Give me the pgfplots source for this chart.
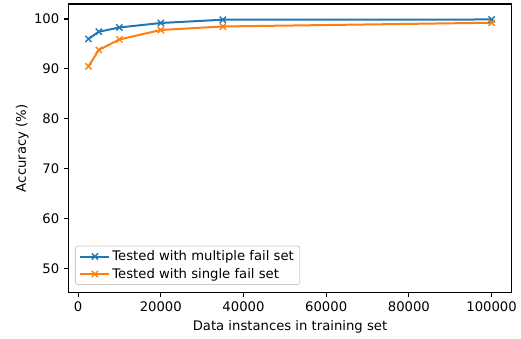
\documentclass[border=0pt]{standalone}
\usepackage{fontspec}
\setmainfont{DejaVu Sans}
\usepackage{pgfplots}
\pgfplotsset{compat=1.18}
\definecolor{mplblue}{HTML}{1F77B4}
\definecolor{mplorange}{HTML}{FF7F0E}
\begin{document}
\fontsize{13.2}{16}\selectfont
\begin{tikzpicture}[font=\fontsize{13.2}{16}\selectfont]
\begin{axis}[
  scale only axis,
  width=443.4pt, height=288.7pt,
  xmin=-2375, xmax=104875,
  ymin=45.2, ymax=103,
  xtick={0,20000,40000,60000,80000,100000},
  xticklabels={0,20000,40000,60000,80000,100000},
  ytick={50,60,70,80,90,100},
  yticklabels={50,60,70,80,90,100},
  scaled x ticks=false,
  tick align=outside,
  tick pos=left,
  major tick length=4.5pt,
  tick style={black, line width=1.05pt},
  axis line style={line width=1.05pt},
  xlabel={Data instances in training set},
  ylabel={Accuracy (\%)},
  xlabel style={at={(axis description cs:0.5,0)}, anchor=base, yshift=-38pt},
  ylabel style={at={(axis description cs:-0.1037,0.5)}, anchor=center},
  tick label style={font=\fontsize{13.2}{16}\selectfont},
  label style={font=\fontsize{13.2}{16}\selectfont},
  legend style={at={(0.0151,0.0267)}, anchor=south west, draw=black!20, line width=0.8pt, rounded corners=2.5pt,
     font=\fontsize{13.2}{16}\selectfont, inner xsep=4pt, inner ysep=2.5pt, row sep=1.5pt,
     /tikz/every even column/.append style={column sep=4pt}},
  legend cell align=left,
  legend image code/.code={\draw[mark repeat=2,mark phase=2,#1] plot coordinates {(0pt,0pt) (14.5pt,0pt) (29pt,0pt)};},
]
\addplot[mplblue, line width=2pt, mark=x, mark size=4.4pt, mark options={line width=1.4pt}] coordinates {
 (2500,96.0) (5000,97.45) (10000,98.3) (20000,99.2) (35000,99.85) (100000,99.9)};
\addlegendentry{Tested with multiple fail set}
\addplot[mplorange, line width=2pt, mark=x, mark size=4.4pt, mark options={line width=1.4pt}] coordinates {
 (2500,90.5) (5000,93.8) (10000,95.9) (20000,97.8) (35000,98.5) (100000,99.25)};
\addlegendentry{Tested with single fail set}
\end{axis}
\pgfresetboundingbox
\path[use as bounding box] (-68.3pt,-45.3pt) rectangle (452.7pt,292.7pt);
\end{tikzpicture}
\end{document}
